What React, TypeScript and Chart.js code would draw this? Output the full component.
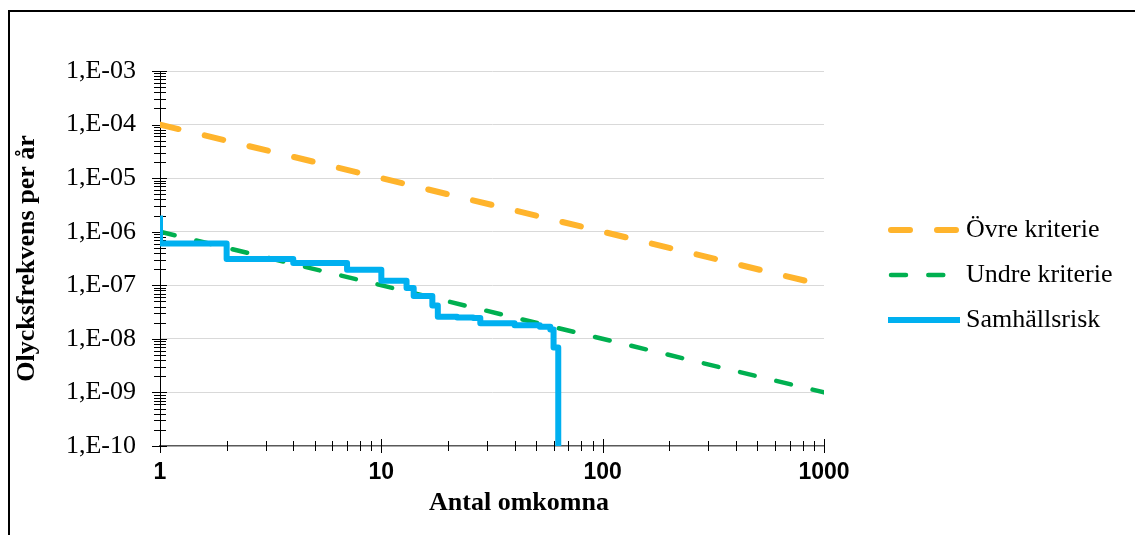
import React, { useEffect, useRef } from "react";
import { Chart, registerables } from "chart.js";

Chart.register(...registerables);

// ---------- data ----------
const samhallsN = [1, 1, 2, 4, 7, 10, 13, 14, 17, 18, 22, 26, 28, 40, 52, 58, 60, 63];
const samhallsF = [
  2e-6, 6e-7, 3.1e-7, 2.6e-7, 1.95e-7, 1.22e-7, 8.9e-8, 6.3e-8, 4.2e-8, 2.6e-8,
  2.5e-8, 2.45e-8, 1.95e-8, 1.8e-8, 1.68e-8, 1.5e-8, 6.9e-9, 1e-10,
];
const kriterieN = [1, 1000];
const ovreF = [1e-4, 1e-7];
const undreF = [1e-6, 1e-9];

const seriesLabels = ["Övre kriterie", "Undre kriterie", "Samhällsrisk"];
const xTickValues = [1, 10, 100, 1000];
const xTickLabels = ["1", "10", "100", "1000"];
const yTickValues = [1e-10, 1e-9, 1e-8, 1e-7, 1e-6, 1e-5, 1e-4, 1e-3];
const yTickLabels = ["1,E-10", "1,E-09", "1,E-08", "1,E-07", "1,E-06", "1,E-05", "1,E-04", "1,E-03"];
const xTitle = "Antal omkomna";
const yTitle = "Olycksfrekvens per år";

// ---------- styles ----------
const SERIF = "'Liberation Serif', 'Times New Roman', serif";
const SANS = "'Liberation Sans', Arial, sans-serif";
const ORANGE = "#FFB42C";
const GREEN = "#00B050";
const BLUE = "#00B0F0";

const toPoints = (xs: number[], ys: number[]) => xs.map((x, i) => ({ x, y: ys[i] }));

const decorPlugin = {
  id: "decor",
  beforeDatasetsDraw(chart: any) {
    const ctx = chart.ctx;
    const xs = chart.scales.x;
    const ys = chart.scales.y;
    const area = chart.chartArea;
    ctx.save();
    ctx.strokeStyle = "#000";
    ctx.lineWidth = 1;
    // y-axis cross ticks
    const yLo = Math.round(Math.log10(ys.min));
    const yHi = Math.round(Math.log10(ys.max));
    for (let e = yLo; e <= yHi; e++) {
      for (let m = 1; m <= 9; m++) {
        const v = m * Math.pow(10, e);
        if (v > ys.max * 1.0001) break;
        const py = Math.round(ys.getPixelForValue(v)) + 0.5;
        const major = m === 1;
        ctx.beginPath();
        ctx.moveTo(area.left - (major ? 8 : 6), py);
        ctx.lineTo(area.left + (major ? 7 : 6), py);
        ctx.stroke();
      }
    }
    // x-axis cross ticks
    const xLo = Math.round(Math.log10(xs.min));
    const xHi = Math.round(Math.log10(xs.max));
    for (let e = xLo; e <= xHi; e++) {
      for (let m = 1; m <= 9; m++) {
        const v = m * Math.pow(10, e);
        if (v > xs.max * 1.0001) break;
        const px = Math.round(xs.getPixelForValue(v)) + 0.5;
        const major = m === 1;
        ctx.beginPath();
        ctx.moveTo(px, area.bottom - (major ? 7 : 5));
        ctx.lineTo(px, area.bottom + (major ? 7 : 5));
        ctx.stroke();
      }
    }
    ctx.restore();
  },
  afterDraw(chart: any) {
    const ctx = chart.ctx;
    const area = chart.chartArea;
    ctx.save();
    // axis titles
    ctx.fillStyle = "#000";
    ctx.font = `bold 26px ${SERIF}`;
    ctx.textAlign = "center";
    ctx.textBaseline = "alphabetic";
    ctx.fillText(xTitle, area.left + 359, area.bottom + 64);
    ctx.save();
    ctx.translate(area.left - 133, (area.top + area.bottom) / 2);
    ctx.rotate(-Math.PI / 2);
    ctx.textBaseline = "middle";
    ctx.fillText(yTitle, 0, 0);
    ctx.restore();

    // legend
    const legendX0 = area.right + 64;
    const legendX1 = area.right + 136;
    const legendYs = [area.top + 159, area.top + 204, area.top + 249];
    chart.data.datasets.forEach((ds: any, i: number) => {
      const y = legendYs[i];
      ctx.save();
      ctx.strokeStyle = ds.borderColor;
      ctx.lineWidth = ds.borderWidth;
      ctx.lineCap = ds.borderCapStyle || "butt";
      ctx.setLineDash(ds.borderDash || []);
      ctx.beginPath();
      ctx.moveTo(legendX0 + (ds.borderDash ? 3 : 0), y);
      ctx.lineTo(legendX1, y);
      ctx.stroke();
      ctx.restore();
      ctx.fillStyle = "#000";
      ctx.font = `26px ${SERIF}`;
      ctx.textAlign = "left";
      ctx.textBaseline = "middle";
      ctx.fillText(ds.label, legendX1 + 6, y);
    });
    ctx.restore();
  },
};

export default function App() {
  const ref = useRef<HTMLCanvasElement>(null);

  useEffect(() => {
    const canvas = ref.current as HTMLCanvasElement;
    const chart = new Chart(canvas, {
      type: "line",
      data: {
        datasets: [
          {
            label: seriesLabels[0],
            data: toPoints(kriterieN, ovreF),
            borderColor: ORANGE,
            backgroundColor: ORANGE,
            borderWidth: 6,
            borderDash: [19, 27],
            borderCapStyle: "round",
            pointRadius: 0,
            fill: false,
            order: 2,
          },
          {
            label: seriesLabels[1],
            data: toPoints(kriterieN, undreF),
            borderColor: GREEN,
            backgroundColor: GREEN,
            borderWidth: 4.5,
            borderDash: [15, 22.3],
            borderCapStyle: "round",
            pointRadius: 0,
            fill: false,
            order: 1,
          },
          {
            label: seriesLabels[2],
            data: toPoints(samhallsN, samhallsF),
            borderColor: BLUE,
            backgroundColor: BLUE,
            borderWidth: 6,
            borderJoinStyle: "round",
            stepped: true,
            pointRadius: 0,
            fill: false,
            order: 0,
          },
        ],
      } as any,
      options: {
        responsive: false,
        animation: false,
        devicePixelRatio: 1,
        layout: { padding: { left: 0, right: 311, top: 71, bottom: 0 } },
        plugins: {
          legend: { display: false },
          tooltip: { enabled: false },
        },
        scales: {
          x: {
            type: "logarithmic",
            min: 1,
            max: 1000,
            afterFit: (s: any) => {
              s.height = 89;
            },
            afterBuildTicks: (s: any) => {
              s.ticks = xTickValues.map((v) => ({ value: v }));
            },
            grid: { display: false, drawTicks: false },
            border: { display: true, color: "#595959", width: 1.5 },
            ticks: {
              autoSkip: false,
              maxRotation: 0,
              padding: 13,
              color: "#000",
              font: { family: SANS, size: 23, weight: "bold" },
              callback: (_v: any, i: number) => xTickLabels[i],
            },
          },
          y: {
            type: "logarithmic",
            min: 1e-10,
            max: 1e-3,
            afterFit: (s: any) => {
              s.width = 160;
            },
            afterBuildTicks: (s: any) => {
              s.ticks = yTickValues.map((v) => ({ value: v }));
            },
            grid: {
              drawTicks: false,
              lineWidth: 1,
              color: (c: any) => (c.index === 0 ? "rgba(0,0,0,0)" : "#d9d9d9"),
            },
            border: { display: true, color: "#000", width: 1 },
            ticks: {
              autoSkip: false,
              padding: 24,
              color: "#000",
              font: { family: SERIF, size: 26 },
              callback: (_v: any, i: number) => yTickLabels[i],
            },
          },
        },
      } as any,
      plugins: [decorPlugin as any],
    });
    return () => chart.destroy();
  }, []);

  return (
    <div
      style={{
        position: "fixed",
        left: 0,
        top: 0,
        width: 1135,
        height: 535,
        overflow: "hidden",
        background: "#fff",
      }}
    >
      <div
        style={{
          position: "absolute",
          left: 8,
          top: 10,
          width: 1200,
          height: 600,
          border: "2px solid #000",
          boxSizing: "border-box",
        }}
      />
      <canvas
        ref={ref}
        width={1135}
        height={535}
        style={{ position: "absolute", left: 0, top: 0, display: "block" }}
      />
    </div>
  );
}
